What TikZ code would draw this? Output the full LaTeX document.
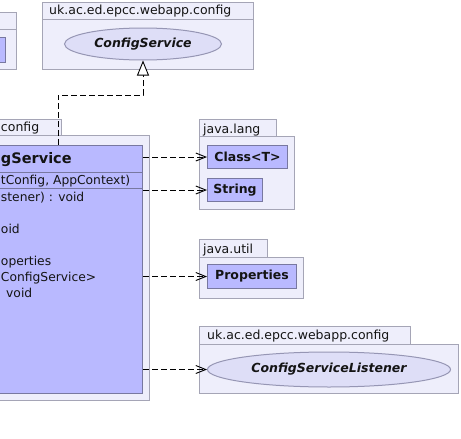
\documentclass[tikz,border=0pt]{standalone}
\usepackage{fontspec}
\setmainfont{DejaVu Sans}
\usetikzlibrary{arrows.meta,shapes.geometric}
\definecolor{pkgfill}{RGB}{238,238,251}
\definecolor{pkgline}{RGB}{165,165,182}
\definecolor{clsfill}{RGB}{185,185,255}
\definecolor{clsline}{RGB}{120,120,160}
\definecolor{ifill}{RGB}{222,222,247}
\definecolor{iline}{RGB}{150,150,180}
\definecolor{txt}{RGB}{20,20,20}
\tikzset{
  pkg/.style={draw=pkgline, fill=pkgfill, line width=1pt, inner sep=0pt, anchor=north west, rectangle},
  clsbox/.style={draw=clsline, fill=clsfill, line width=1pt, inner sep=0pt, anchor=north west, rectangle, font=\fontsize{12.5}{15}\selectfont\bfseries, text=txt},
  iface/.style={ellipse, draw=iline, fill=ifill, line width=1pt, inner sep=0pt, font=\fontsize{12.5}{15}\selectfont\bfseries\itshape, text=txt},
  plabel/.style={inner sep=0pt, font=\fontsize{12.5}{15}\selectfont, text=txt},
  mlabel/.style={inner sep=0pt, font=\fontsize{12.3}{15}\selectfont, text=txt},
  dep/.style={draw=black, line width=0.9pt, dash pattern=on 6pt off 3pt, -{Straight Barb[length=10pt,width=8pt]}},
  gen/.style={draw=black, line width=0.9pt, dash pattern=on 6pt off 3pt, -{Triangle[length=15pt,width=12pt,fill=white]}}
}
\begin{document}
\begin{tikzpicture}[x=1pt,y=-1pt]
\useasboundingbox (0,0) rectangle (461,439);
\clip (0,0) rectangle (461,439);
\fill[white] (0,0) rectangle (461,439);

% top-left package (cropped)
\node[pkg, minimum width=35.7pt, minimum height=17pt] (tltab) at (-20,12) {};
\node[pkg, minimum width=36pt, minimum height=40pt] (tlbody) at (-20,29) {};
\node[clsbox, minimum width=25pt, minimum height=25pt] (tlcls) at (-20,37) {};

% top package
\node[pkg, minimum width=211pt, minimum height=17pt] (tptab) at (42,2) {};
\node[pkg, minimum width=211pt, minimum height=50pt] (tpbody) at (42,19) {};
\node[plabel, anchor=base west] (tplab) at (49,15) {uk.ac.ed.epcc.webapp.config};
\node[iface, minimum width=157pt, minimum height=32pt] (csvc) at (143,44) {ConfigService};

% middle package (cropped)
\node[pkg, minimum width=81pt, minimum height=16pt] (mptab) at (-20,119) {};
\node[pkg, minimum width=169pt, minimum height=265pt] (mpbody) at (-20,135) {};
\node[plabel, anchor=base west] (mplab) at (0.8,131) {config};
\node[clsbox, minimum width=162pt, minimum height=248pt] (cs) at (-20,145) {};
\draw[clsline, line width=1pt] (-20,172) -- (142,172);
\draw[clsline, line width=1pt] (-20,188) -- (142,188);
\node[inner sep=0pt, anchor=base west, font=\fontsize{14.5}{17}\selectfont\bfseries, text=txt] (csname) at (0.8,163) {gService};
\node[mlabel, anchor=base west] (m1) at (0.8,184) {tConfig, AppContext)};
\node[mlabel, anchor=base west] (m2) at (0.8,201) {stener) : void};
\node[mlabel, anchor=base west] (m3) at (0.8,233) {oid};
\node[mlabel, anchor=base west] (m4) at (0.8,265) {operties};
\node[mlabel, anchor=base west] (m5) at (0.8,281) {ConfigService>};
\node[mlabel, anchor=base west] (m6) at (6,297) {void};

% java.lang
\node[pkg, minimum width=77pt, minimum height=17pt] (jltab) at (199,119) {};
\node[pkg, minimum width=95pt, minimum height=73pt] (jlbody) at (199,136) {};
\node[plabel, anchor=base west] (jllab) at (203,133) {java.lang};
\node[clsbox, minimum width=80pt, minimum height=23pt] (clsclass) at (207,145) {Class<T>};
\node[clsbox, minimum width=55pt, minimum height=23pt] (clsstring) at (207,178) {String};

% java.util
\node[pkg, minimum width=68pt, minimum height=18pt] (jutab) at (199,239) {};
\node[pkg, minimum width=104pt, minimum height=41pt] (jubody) at (199,257) {};
\node[plabel, anchor=base west] (julab) at (203,253) {java.util};
\node[clsbox, minimum width=89pt, minimum height=24pt] (clsprops) at (207,264) {Properties};

% bottom package
\node[pkg, minimum width=211pt, minimum height=18pt] (bptab) at (199,326) {};
\node[pkg, minimum width=259pt, minimum height=49pt] (bpbody) at (199,344) {};
\node[plabel, anchor=base west] (bplab) at (207,339) {uk.ac.ed.epcc.webapp.config};
\node[iface, minimum width=243pt, minimum height=35pt] (csl) at (329,369.5) {ConfigServiceListener};

% connectors
\coordinate (gsrc) at (58,145);
\draw[gen] (gsrc) -- ++(0,-50) -| (csvc.south);
\draw[dep] (cs.east |- clsclass.west) -- (clsclass.west);
\draw[dep] (cs.east |- clsstring.west) -- (clsstring.west);
\draw[dep] (cs.east |- clsprops.west) -- (clsprops.west);
\draw[dep] (cs.east |- csl.west) -- (csl.west);
\end{tikzpicture}
\end{document}
